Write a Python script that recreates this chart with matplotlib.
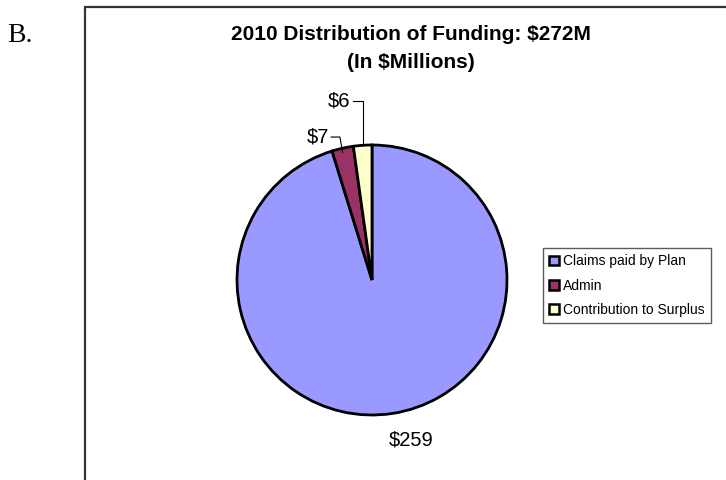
import numpy as np
import matplotlib
matplotlib.use("Agg")
import matplotlib.pyplot as plt
from matplotlib.patches import Patch
from matplotlib.lines import Line2D

# Funding data ($ millions)
categories = ["Claims paid by Plan", "Admin", "Contribution to Surplus"]
values = [259, 7, 6]
value_labels = ["$259", "$7", "$6"]
colors = ["#9999FF", "#993366", "#FFFFCC"]

W, H = 726, 480
fig = plt.figure(figsize=(W / 100, H / 100), dpi=100)
fig.patch.set_facecolor("white")

def fx(px):
    return px / W

def fy(py):
    return 1 - py / H

# Section letter and the frame around the chart area
fig.text(fx(7), fy(35), "B.", family="Liberation Serif", fontsize=20,
         ha="left", va="center", color="black")
frame = Line2D([fx(85), fx(85), 1.0], [0.0, fy(7), fy(7)],
               transform=fig.transFigure, color="#333333", linewidth=1.6,
               solid_joinstyle="miter")
fig.add_artist(frame)

# Title
fig.text(fx(411), fy(34), "2010 Distribution of Funding: $272M",
         family="Liberation Sans", weight="bold", fontsize=15,
         ha="center", va="center")
fig.text(fx(411), fy(63), "(In $Millions)",
         family="Liberation Sans", weight="bold", fontsize=15,
         ha="center", va="center")

# Pie axes: centre (372, 280) px, radius 135 px
cx, cy, r = 372, 280, 135
ax = fig.add_axes([fx(cx - r), 1 - (cy + r) / H, 2 * r / W, 2 * r / H])
wedges, _ = ax.pie(values, colors=colors, startangle=90, counterclock=False,
                   radius=1.0,
                   wedgeprops=dict(edgecolor="black", linewidth=2.0))
ax.set_xlim(-1, 1)
ax.set_ylim(-1, 1)
ax.set_aspect("auto")
ax.axis("off")

# Data labels, placed from each wedge's mid angle
label_font = dict(family="Liberation Sans", fontsize=14.5, color="black")
for w, lab in zip(wedges, value_labels):
    mid = np.deg2rad((w.theta1 + w.theta2) / 2)
    ex, ey = np.cos(mid), np.sin(mid)
    if lab == "$259":
        ax.text(ex + 0.14, ey - 0.196, lab, ha="center", va="center",
                clip_on=False, **label_font)
    elif lab == "$6":
        ty = 1.326
        ax.text(ex - 0.095, ty, lab, ha="right", va="center",
                clip_on=False, **label_font)
        ax.plot([ex - 0.07, ex, ex], [ty, ty, ey], color="black",
                linewidth=0.8, clip_on=False)
    else:
        ty = 1.059
        ax.text(ex - 0.10, ty, lab, ha="right", va="center",
                clip_on=False, **label_font)
        ax.plot([ex - 0.085, ex - 0.02, ex], [ty, ty, ey - 0.03],
                color="black", linewidth=0.8, clip_on=False)

# Legend
handles = [Patch(facecolor=c, edgecolor="black", linewidth=1.8) for c in colors]
leg = fig.legend(handles, categories, loc="upper left",
                 bbox_to_anchor=(fx(543), fy(248)), borderaxespad=0,
                 frameon=True, fancybox=False, shadow=False,
                 prop=dict(family="Liberation Sans", size=10),
                 handlelength=0.7, handleheight=0.7, handletextpad=0.3,
                 labelspacing=0.75, borderpad=0.45)
leg.get_frame().set_edgecolor("#333333")
leg.get_frame().set_linewidth(1.0)

fig.savefig("out.png", dpi=100, facecolor="white")
